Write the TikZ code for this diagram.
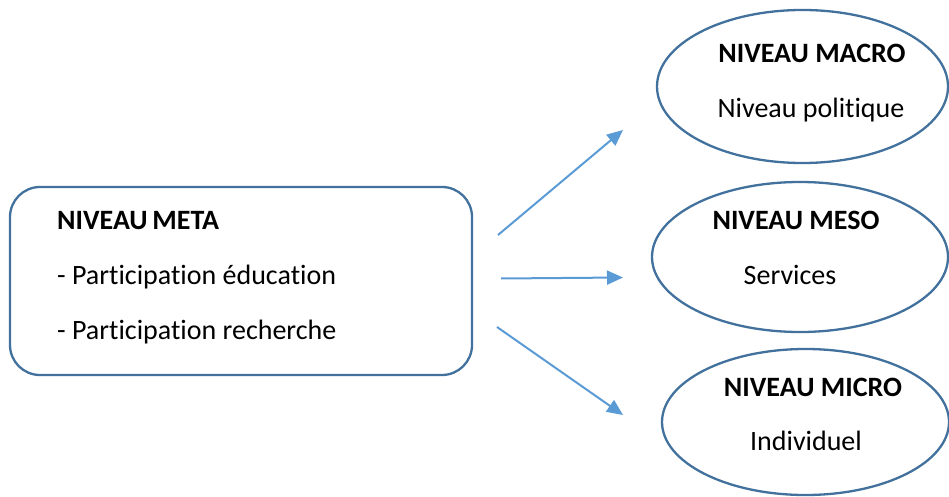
\documentclass[tikz,border=0pt]{standalone}
\usepackage{fontspec}
\setmainfont[Ligatures={NoCommon}]{Carlito}
\usetikzlibrary{shapes.geometric,arrows.meta}
\definecolor{outline}{HTML}{41719C}
\definecolor{arrowblue}{HTML}{5B9BD5}
\tikzset{
  lvlbox/.style={draw=outline,line width=2.3pt,rounded corners=30pt,minimum width=462pt,minimum height=188pt,inner sep=0pt},
  lvlell/.style={draw=outline,line width=2.3pt,ellipse,inner sep=0pt},
  txt/.style={font=\fontsize{28}{33}\selectfont,inner sep=0pt,text=black},
  ttl/.style={txt,font=\fontsize{28}{33}\selectfont\bfseries},
  conn/.style={draw=arrowblue,line width=2pt,-{Triangle[length=16pt,width=14pt]}}
}
\begin{document}
\begin{tikzpicture}[x=1pt,y=-1pt]
\useasboundingbox (0,0) rectangle (949,497);
% left box
\node[lvlbox] (meta) at (241,281) {};
\node[ttl,anchor=base west] (metaT) at (57,229) {NIVEAU\,META};
\node[txt,anchor=base west] (metaA) at (57,284) {- Participation éducation};
\node[txt,anchor=base west] (metaB) at (57,339) {- Participation recherche};
% ellipses
\node[lvlell,minimum width=291pt,minimum height=153pt] (macro) at (802.5,86.5) {};
\node[ttl,anchor=base] (macroT) at (812,63) {NIVEAU MACRO};
\node[txt,anchor=base] (macroS) at (811,118) {Niveau politique};
\node[lvlell,minimum width=296pt,minimum height=150pt] (meso) at (800,257) {};
\node[ttl,anchor=base] (mesoT) at (796,229) {NIVEAU MESO};
\node[txt,anchor=base] (mesoS) at (790,284) {Services};
\node[lvlell,minimum width=287pt,minimum height=146pt] (micro) at (805.5,422) {};
\node[ttl,anchor=base] (microT) at (813,396) {NIVEAU MICRO};
\node[txt,anchor=base] (microS) at (806,450) {Individuel};
% arrow end points
\coordinate (s1) at (498,235);
\coordinate (e1) at (623,130);
\coordinate (s2) at (501,278.5);
\coordinate (e2) at (623,277.5);
\coordinate (s3) at (497,327);
\coordinate (e3) at (623,415);
\draw[conn] (s1) -- (e1);
\draw[conn] (s2) -- (e2);
\draw[conn] (s3) -- (e3);
\end{tikzpicture}
\end{document}
